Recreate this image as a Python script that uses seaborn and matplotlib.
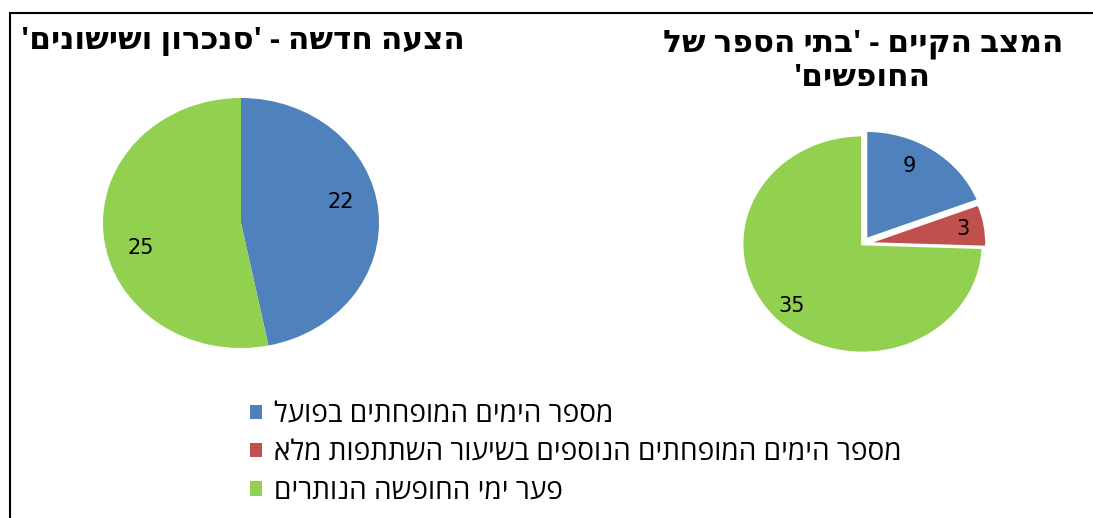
import matplotlib
matplotlib.use("Agg")
import matplotlib.pyplot as plt
import matplotlib.patches as mpatches
import seaborn as sns

# data
categories = [
    "מספר הימים המופחתים בפועל",
    "מספר הימים המופחתים הנוספים בשיעור השתתפות מלא",
    "פער ימי החופשה הנותרים",
]
colors = ["#4F81BD", "#C0504D", "#92D050"]

new_title = "הצעה חדשה - 'סנכרון ושישונים'"
new_values = [22, 25]          # blue, green
new_colors = [colors[0], colors[2]]

cur_title = ["המצב הקיים - 'בתי הספר של", "החופשים'"]
cur_values = [9, 3, 35]        # blue, red, green


def rtl(s):
    # matplotlib has no bidi support, so flip hebrew text for display
    return s[::-1]


def fmt(values):
    total = sum(values)
    return lambda p: f"{p * total / 100:.0f}"


sns.set_theme(style="white")
plt.rcParams["font.family"] = ["Open Sans", "DejaVu Sans"]
plt.rcParams["text.color"] = "black"

W, H = 1093, 518
fig = plt.figure(figsize=(W / 100, H / 100), dpi=100)
fig.patch.set_facecolor("white")

# left pie - new proposal
ax1 = fig.add_axes([(241 - 138) / W, (H - 348) / H, 276 / W, 250 / H])
_, _, t1 = ax1.pie(new_values, colors=new_colors, startangle=90, counterclock=False,
                   autopct=fmt(new_values), pctdistance=0.73,
                   wedgeprops=dict(linewidth=0),
                   textprops=dict(fontsize=15, color="black", family="DejaVu Sans"))
ax1.set_aspect("auto")
ax1.set_xlim(-1, 1)
ax1.set_ylim(-1, 1)
ax1.axis("off")
# excel "best fit" label spots
t1[0].set_position((0.72, 0.17))
t1[1].set_position((-0.73, -0.2))

# right pie - current state
ax2 = fig.add_axes([(862.5 - 120.5) / W, (H - 353) / H, 241 / W, 218 / H])
wedges, _, t2 = ax2.pie(cur_values, colors=colors, startangle=90, counterclock=False,
                        explode=[0.05, 0.03, 0], autopct=fmt(cur_values), pctdistance=0.82,
                        wedgeprops=dict(edgecolor="white", linewidth=2),
                        textprops=dict(fontsize=15, color="black", family="DejaVu Sans"))
ax2.set_aspect("auto")
ax2.set_xlim(-1, 1)
ax2.set_ylim(-1, 1)
ax2.axis("off")
t2[0].set_position((0.39, 0.72))

# titles
fig.text(243 / W, 1 - 41 / H, rtl(new_title), ha="center", va="center",
         fontsize=22.4, fontweight="bold")
fig.text(863 / W, 1 - 44 / H, rtl(cur_title[0]), ha="center", va="center",
         fontsize=22.4, fontweight="bold")
fig.text(862 / W, 1 - 78 / H, rtl(cur_title[1]), ha="center", va="center",
         fontsize=22.4, fontweight="bold")

# legend
handles = [mpatches.Patch(facecolor=c, edgecolor="none") for c in colors]
fig.legend(handles, [rtl(c) for c in categories], loc="upper left",
           bbox_to_anchor=(250 / W, 1 - 401 / H), frameon=False, fontsize=20.2,
           handlelength=0.43, handleheight=0.43, handletextpad=0.43,
           labelspacing=0.36, borderpad=0, borderaxespad=0)

# frame around the chart (cut off on the right and bottom)
fig.add_artist(mpatches.Rectangle((10 / W, -0.1), 1.2, 1.1 - 13 / H,
                                  transform=fig.transFigure, fill=False,
                                  edgecolor="black", linewidth=1.5))

fig.savefig("out.png", dpi=100)
